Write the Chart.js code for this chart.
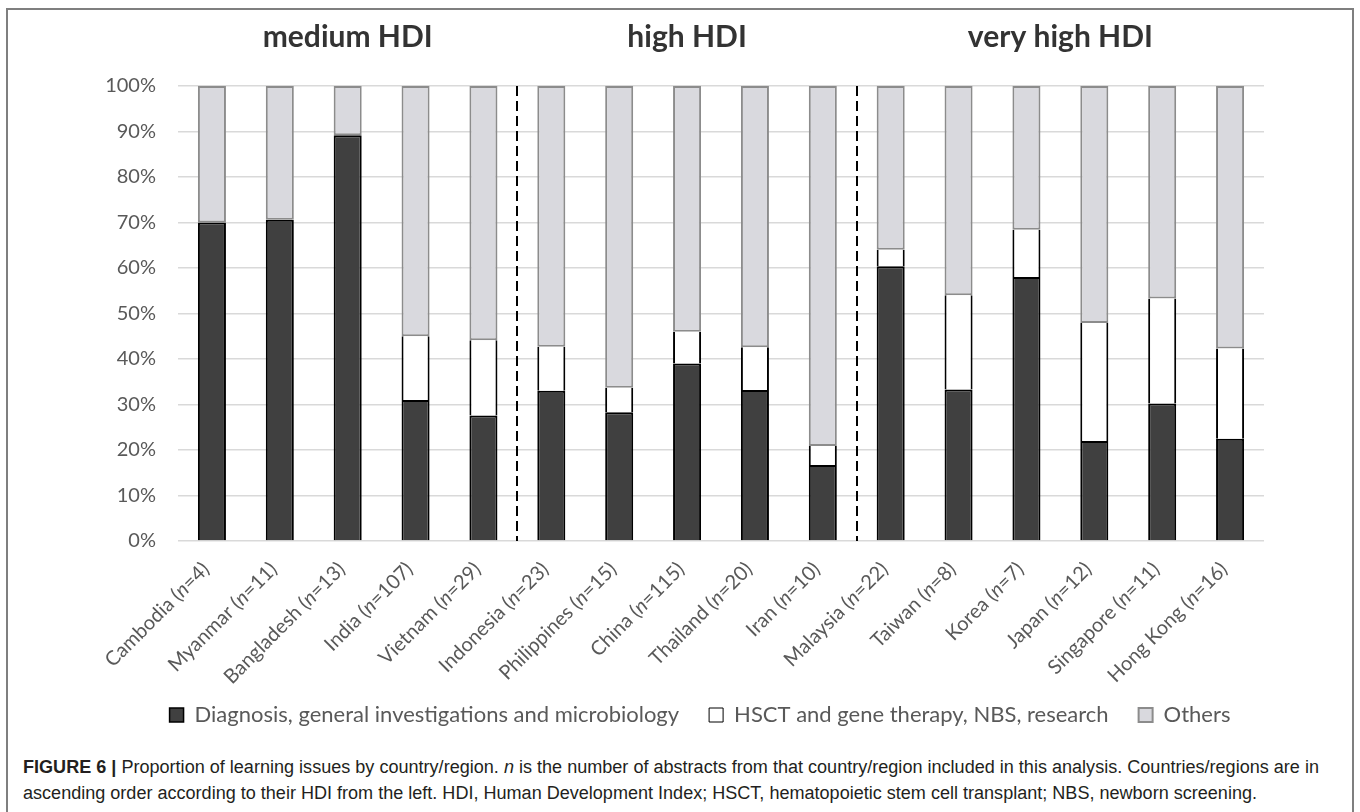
<!DOCTYPE html>
<html>
<head>
<meta charset="utf-8">
<script src="https://cdn.jsdelivr.net/npm/chart.js@4.4.0/dist/chart.umd.min.js"></script>
<style>
  html, body { margin: 0; padding: 0; background: #fff; }
  #wrap { position: relative; width: 1360px; height: 812px; overflow: hidden; }
  #frame { position: absolute; left: 6px; top: 8px; width: 1344px; height: 900px;
           border: 2px solid #7f7f7f; border-bottom: none; }
  #chart { position: absolute; left: 0; top: 0; }
  #caption { position: absolute; left: 23px; top: 754px; color: #231f20;
             font-family: "Liberation Sans Narrow", "Liberation Sans", Arial, sans-serif;
             font-size: 18px; line-height: 26px; }
  #caption .ln { display: block; width: max-content; white-space: nowrap; transform-origin: 0 0; }
</style>
</head>
<body>
<div id="wrap">
  <div id="frame"></div>
  <canvas id="chart" width="1360" height="740"></canvas>
  <div id="caption">
    <div class="ln"><b>FIGURE 6 |</b> Proportion of learning issues by country/region. <i>n</i> is the number of abstracts from that country/region included in this analysis. Countries/regions are in</div>
    <div class="ln">ascending order according to their HDI from the left. HDI, Human Development Index; HSCT, hematopoietic stem cell transplant; NBS, newborn screening.</div>
  </div>
</div>
<script>
// countries in ascending HDI order, n = number of abstracts
const countries = ['Cambodia', 'Myanmar', 'Bangladesh', 'India', 'Vietnam', 'Indonesia', 'Philippines', 'China',
                   'Thailand', 'Iran', 'Malaysia', 'Taiwan', 'Korea', 'Japan', 'Singapore', 'Hong Kong'];
const abstractCounts = [4, 11, 13, 107, 29, 23, 15, 115, 20, 10, 22, 8, 7, 12, 11, 16];

// share of learning issues, %
const diagnosis = [70.0, 70.6, 89.2, 31.0, 27.6, 33.0, 28.3, 39.0, 33.2, 16.7, 60.4, 33.3, 58.0, 22.0, 30.2, 22.5];
const hsctNbsResearch = [0, 0, 0, 14.0, 16.5, 9.7, 5.4, 7.0, 9.4, 4.2, 3.6, 20.7, 10.4, 25.9, 23.1, 19.8];
const others = [30.0, 29.4, 10.8, 55.0, 55.9, 57.3, 66.3, 54.0, 57.4, 79.1, 36.0, 46.0, 31.6, 52.1, 46.7, 57.7];

const seriesLabels = ['Diagnosis, general investigations and microbiology',
                      'HSCT and gene therapy, NBS, research', 'Others'];

// HDI groups as index ranges into countries
const hdiGroups = [
  { label: 'medium HDI', first: 0, last: 4 },
  { label: 'high HDI', first: 5, last: 9 },
  { label: 'very high HDI', first: 10, last: 15 }
];

const captionWidths = [1296, 1234];

const hdiAnnotations = {
  id: 'hdiAnnotations',
  afterLayout(chart) {
    // nudge the legend row a little to the right, as in the original
    chart.legend.left += 19;
    chart.legend.right += 19;
  },
  afterDatasetsDraw(chart) {
    const { ctx, chartArea, scales: { x } } = chart;
    ctx.save();
    ctx.strokeStyle = '#000';
    ctx.lineWidth = 2;
    ctx.setLineDash([10, 5]);
    hdiGroups.slice(1).forEach(g => {
      const px = Math.round((x.getPixelForTick(g.first - 1) + x.getPixelForTick(g.first)) / 2);
      ctx.beginPath();
      ctx.moveTo(px, chartArea.top);
      ctx.lineTo(px, chartArea.bottom);
      ctx.stroke();
    });
    ctx.restore();
  },
  afterDraw(chart) {
    const { ctx, chartArea, scales: { x } } = chart;

    // group headings
    ctx.save();
    ctx.fillStyle = '#333333';
    ctx.font = 'bold 30px Lato';
    ctx.textAlign = 'center';
    ctx.textBaseline = 'alphabetic';
    hdiGroups.forEach(g => {
      const cx = (x.getPixelForTick(g.first) + x.getPixelForTick(g.last)) / 2;
      ctx.fillText(g.label, cx, 47);
    });
    ctx.restore();

    // rotated category labels with italic n
    const normal = '20px Lato';
    const italic = 'italic 20px Lato';
    ctx.save();
    ctx.fillStyle = '#595959';
    ctx.textBaseline = 'middle';
    ctx.textAlign = 'left';
    countries.forEach((name, i) => {
      const parts = [[name + ' (', normal], ['n', italic], ['=' + abstractCounts[i] + ')', normal]];
      let total = 0;
      parts.forEach(p => { ctx.font = p[1]; total += ctx.measureText(p[0]).width; });
      ctx.save();
      ctx.translate(x.getPixelForTick(i) - 6, chartArea.bottom + 25);
      ctx.rotate(-Math.PI / 4);
      let cx = -total;
      parts.forEach(p => {
        ctx.font = p[1];
        ctx.fillText(p[0], cx, 0);
        cx += ctx.measureText(p[0]).width;
      });
      ctx.restore();
    });
    ctx.restore();
  }
};

new Chart(document.getElementById('chart'), {
  type: 'bar',
  data: {
    labels: countries,
    datasets: [
      {
        label: seriesLabels[0],
        data: diagnosis,
        backgroundColor: '#404040',
        borderColor: '#000000',
        borderWidth: { top: 2, left: 2, right: 2, bottom: 0 },
        borderSkipped: false
      },
      {
        label: seriesLabels[1],
        data: hsctNbsResearch,
        backgroundColor: '#ffffff',
        borderColor: '#000000',
        borderWidth: { top: 0, left: 2, right: 2, bottom: 0 },
        borderSkipped: false
      },
      {
        label: seriesLabels[2],
        data: others,
        backgroundColor: '#d9d9de',
        borderColor: '#8c8c8c',
        borderWidth: 2,
        borderSkipped: false
      }
    ]
  },
  options: {
    responsive: false,
    animation: false,
    datasets: { bar: { barPercentage: 0.413, categoryPercentage: 1 } },
    layout: { padding: { top: 86, left: 98, right: 96, bottom: 4 } },
    scales: {
      x: {
        stacked: true,
        grid: { display: false },
        border: { display: false },
        ticks: { display: false },
        afterFit: s => { s.height = 133; }
      },
      y: {
        stacked: true,
        min: 0,
        max: 100,
        border: { display: false },
        grid: { color: '#d9d9d9', lineWidth: 1.4, drawTicks: false },
        ticks: {
          stepSize: 10,
          padding: 22,
          color: '#595959',
          font: { family: 'Lato', size: 20 },
          callback: v => v + '%'
        },
        afterFit: s => { s.width = 80; }
      }
    },
    plugins: {
      tooltip: { enabled: false },
      legend: {
        position: 'bottom',
        labels: {
          boxWidth: 14,
          boxHeight: 14,
          padding: 30,
          color: '#595959',
          font: { family: 'Lato', size: 22 }
        }
      }
    }
  },
  plugins: [hdiAnnotations]
});

document.querySelectorAll('#caption .ln').forEach((el, i) => {
  const w = el.getBoundingClientRect().width;
  el.style.transform = 'scaleX(' + (captionWidths[i] / w) + ')';
});
</script>
</body>
</html>
